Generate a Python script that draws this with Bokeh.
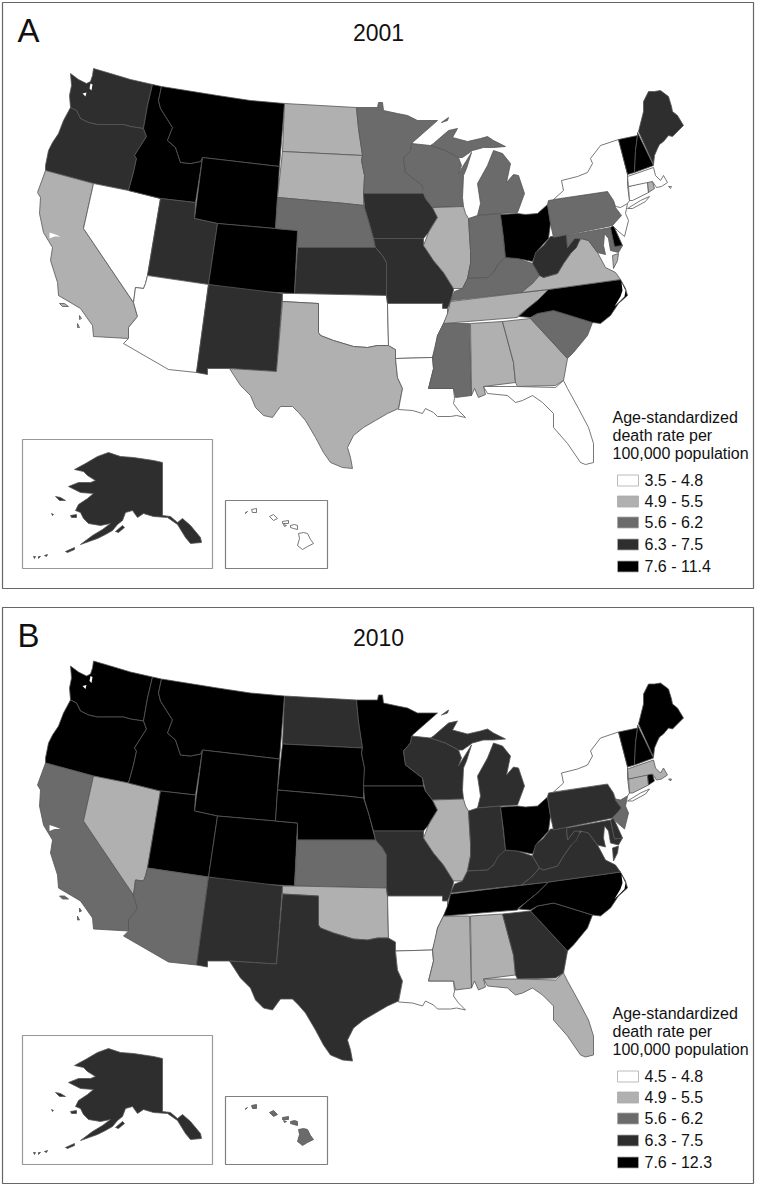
from bokeh.plotting import figure
from bokeh.models import Range1d, ColumnDataSource
from bokeh.core.properties import value
from bokeh.embed import file_html
from bokeh.resources import INLINE

# Rate classes (index into PALETTE) by state
STATE_NAMES = ["WA","OR","CA","NV","ID","MT","WY","UT","CO","AZ","NM","ND","SD","NE","KS","OK","TX",
               "MN","IA","MO","AR","LA","WI","IL","MS","MI","IN","KY","TN","AL","OH","GA","FL","SC",
               "NC","VA","WV","MD","DE","PA","NJ","NY","CT","RI","MA","VT","NH","ME","AK","HI"]
CLASS_2001 = [3,3,1,0,4,4,4,3,4,0,3,1,1,2,3,0,1,
              2,3,3,0,0,2,1,2,2,2,2,1,1,4,1,0,2,
              4,1,3,2,4,2,0,0,0,1,0,4,4,3,3,0]
CLASS_2010 = [4,4,2,1,4,4,4,4,4,2,3,3,4,4,2,1,3,
              4,4,3,0,0,3,1,1,3,3,3,4,1,4,3,1,4,
              4,3,3,3,3,3,2,0,1,4,1,4,4,4,3,2]
PALETTE = ["#ffffff","#b0b0b0","#6b6b6b","#2e2e2e","#000000"]
LEGEND_2001 = ["3.5 - 4.8","4.9 - 5.5","5.6 - 6.2","6.3 - 7.5","7.6 - 11.4"]
LEGEND_2010 = ["4.5 - 4.8","4.9 - 5.5","5.6 - 6.2","6.3 - 7.5","7.6 - 12.3"]
LEGEND_TITLE = ["Age-standardized","death rate per","100,000 population"]

# State outlines (map units)
WA = [[(70,73),(74,76),(78,79),(86,83),(90,81),(92,75),(93,68),(110,73),(130,79),(152,84),(147,105),(143,128),(130,126),(123,124),(110,124),(97,124),(88,122),(80,118),(76,110),(70,107),(69,95),(71,85)]]
OR = [[(70,107),(76,110),(80,118),(88,122),(97,124),(110,124),(123,124),(130,126),(143,128),(146,136),(139,147),(134,155),(136,158),(133,172),(128,190),(93,183),(45,170),(45,165),(48,150),(52,142),(58,133),(63,120)]]
CA = [[(45,170),(93,183),(83,228),(133,302),(137,316),(128,327),(128,338),(93,336),(92,325),(80,308),(58,295),(57,282),(50,260),(52,247),(43,232),(39,213),(40,197),(37,192)],
      [(59,303),(64,303),(68,306),(62,306)],[(79,315),(81,318),(79,319)],[(77,323),(79,327),(77,327)]]
NV = [[(93,183),(128,190),(160,198),(147,275),(145,283),(143,288),(135,287),(133,302),(83,228)]]
ID = [[(152,84),(161,86),(158,100),(160,108),(172,127),(167,140),(175,147),(180,162),(190,163),(200,161),(202,157),(195,202),(160,198),(128,190),(133,172),(136,158),(134,155),(139,147),(146,136),(143,128),(147,105)]]
MT = [[(161,86),(217,95),(250,100),(284,103),(279,166),(202,157),(200,161),(190,163),(180,162),(175,147),(167,140),(172,127),(160,108),(158,100)]]
WY = [[(202,157),(279,166),(275,228),(217,223),(194,218)]]
UT = [[(160,198),(195,202),(194,218),(217,223),(208,284),(147,275)]]
CO = [[(217,223),(275,228),(297,230),(294,293),(238,290),(208,284)]]
AZ = [[(147,275),(208,284),(196,372),(168,369),(123,343),(128,338),(128,327),(137,316),(133,302),(135,287),(143,288),(145,283)]]
NM = [[(208,284),(282,293),(276,371),(229,368),(207,368),(207,374),(196,372)]]
ND = [[(284,103),(356,107),(358,128),(362,155),(282,151)]]
SD = [[(282,151),(362,155),(361,160),(364,175),(363,205),(345,203),(277,197)]]
NE = [[(277,197),(345,203),(363,205),(368,220),(375,247),(297,247),(297,230),(275,228)]]
KS = [[(297,247),(375,247),(382,255),(386,262),(386,295),(294,293)]]
OK = [[(282,293),(294,293),(386,295),(387,303),(388,345),(377,345),(367,347),(353,346),(333,340),(320,335),(318,332),(318,303),(282,301)]]
TX = [[(282,301),(318,303),(318,332),(320,335),(333,340),(353,346),(367,347),(377,345),(388,345),(395,349),(395,358),(397,377),(402,388),(398,408),(387,413),(375,420),(363,427),(353,435),(347,447),(350,457),(352,468),(342,467),(330,462),(323,452),(315,437),(305,420),(298,412),(292,406),(280,406),(277,410),(272,417),(263,415),(255,407),(250,395),(240,385),(229,368),(276,371)]]
MN = [[(356,107),(377,107),(378,102),(382,102),(383,110),(397,113),(407,115),(417,120),(437,120),(412,142),(410,150),(403,158),(405,172),(422,185),(423,193),(363,193),(364,175),(361,160),(362,155),(358,128)]]
IA = [[(363,193),(423,193),(425,198),(432,207),(437,217),(430,228),(428,232),(423,238),(373,238),(368,220),(364,207)]]
MO = [[(373,238),(423,238),(423,245),(433,260),(443,272),(453,288),(453,290),(450,301),(447,308),(442,308),(442,303),(387,303),(386,295),(386,262),(382,255),(375,247)]]
AR = [[(387,303),(442,303),(442,308),(447,308),(447,315),(443,323),(437,335),(435,347),(432,357),(395,358),(395,349),(388,345)]]
LA = [[(395,358),(432,357),(433,368),(428,388),(453,388),(454,398),(453,403),(458,410),(465,417),(456,415),(450,416),(437,416),(433,412),(425,408),(422,413),(412,410),(398,409),(402,388),(397,377)]]
WI = [[(410,150),(411,143),(430,145),(445,150),(458,157),(461,165),(458,173),(466,160),(471,152),(466,168),(463,175),(462,197),(463,206),(432,207),(425,198),(422,185),(405,172),(403,158)]]
IL = [[(432,207),(463,206),(465,213),(468,218),(470,250),(470,263),(467,278),(462,288),(453,288),(443,272),(433,260),(423,245),(428,232),(437,217)]]
MS = [[(443,323),(469,323),(471,395),(455,397),(453,388),(428,388),(433,368),(432,357),(437,335)]]
MI = [[(477,215),(500,213),(517,212),(524,193),(518,175),(513,174),(506,182),(510,163),(502,153),(493,150),(487,165),(477,183),(480,203)],
      [(430,145),(433,143),(448,130),(457,128),(452,137),(467,141),(480,138),(487,136),(493,140),(505,146),(493,147),(483,147),(472,150),(462,157),(458,157),(445,150)],
      [(441,122),(448,117),(447,120)]]
IN = [[(468,218),(477,215),(500,213),(505,257),(493,272),(487,277),(467,278),(470,263),(470,250)]]
KY = [[(450,300),(454,291),(462,288),(467,278),(487,277),(493,272),(498,263),(505,257),(517,258),(532,263),(539,275),(532,283),(521,292)]]
TN = [[(450,301),(548,289),(537,300),(527,308),(518,315),(517,317),(443,323),(447,313)]]
AL = [[(470,323),(502,321),(513,362),(515,382),(483,386),(485,394),(478,397),(474,388),(471,395)]]
OH = [[(500,214),(517,213),(525,214),(537,213),(547,204),(550,223),(548,238),(537,250),(532,261),(517,258),(505,257),(503,237)]]
GA = [[(502,321),(530,318),(567,358),(563,380),(555,385),(517,386),(515,382),(513,362)]]
FL = [[(483,386),(517,386),(555,387),(563,380),(567,388),(578,408),(588,427),(593,443),(593,462),(585,464),(580,462),(567,443),(553,427),(553,413),(542,402),(532,395),(522,400),(515,402),(507,395),(487,393)]]
SC = [[(530,318),(537,313),(553,310),(563,313),(592,322),(587,335),(573,352),(567,358)]]
NC = [[(518,316),(527,308),(537,300),(548,289),(620,279),(625,288),(627,295),(618,303),(610,315),(600,323),(592,322),(563,313),(553,310),(537,313),(530,317)]]
VA = [[(521,292),(532,283),(539,275),(543,277),(557,273),(563,263),(570,253),(578,241),(582,238),(588,240),(597,252),(605,267),(615,272),(620,279),(548,289)],
      [(618,253),(612,255),(613,268),(617,260)]]
WV = [[(532,263),(535,252),(543,245),(550,236),(557,236),(566,234),(567,247),(574,238),(580,238),(576,247),(570,253),(563,263),(557,273),(543,277),(539,275)]]
MD = [[(566,235),(610,227),(614,246),(622,245),(618,252),(610,250),(608,238),(604,233),(603,245),(605,254),(597,252),(588,240),(580,238),(574,238),(567,247)]]
DE = [[(610,227),(613,225),(622,245),(614,246)]]
PA = [[(548,200),(607,191),(613,200),(615,207),(621,215),(612,225),(553,237),(550,223),(547,204)]]
NJ = [[(615,200),(627,203),(625,213),(628,220),(624,236),(617,230),(612,225),(621,215),(615,207)]]
NY = [[(553,199),(563,190),(561,180),(577,176),(587,172),(592,163),(590,158),(600,145),(618,139),(627,173),(627,185),(629,200),(627,203),(620,207),(615,206),(613,200),(607,191)],
      [(627,208),(640,200),(649,196),(645,201),(632,208)]]
CT = [[(628,186),(647,181),(648,192),(632,200),(629,200)]]
RI = [[(647,181),(652,181),(654,188),(648,192)]]
MA = [[(627,176),(653,167),(655,175),(660,180),(663,175),(667,182),(661,186),(656,187),(652,181),(628,186)],
      [(668,186),(671,186),(670,188)]]
VT = [[(618,139),(637,135),(635,150),(634,172),(627,174)]]
NH = [[(637,132),(653,165),(634,172),(635,150),(637,135)]]
ME = [[(638,131),(643,111),(643,101),(648,91),(654,91),(660,90),(668,96),(671,106),(672,111),(677,115),(683,125),(678,130),(672,136),(668,135),(663,141),(659,144),(657,148),(654,155),(653,164)]]
AK = [[(162,462),(162,515),(170,516),(177,522),(182,518),(190,525),(200,537),(201,542),(190,543),(185,537),(177,524),(167,517),(153,516),(143,513),(137,517),(132,510),(125,512),(122,520),(117,524),(112,530),(105,534),(97,538),(80,544),(92,535),(102,529),(110,523),(100,525),(88,523),(83,518),(80,512),(75,510),(78,504),(87,498),(93,493),(80,492),(68,486),(78,482),(90,482),(95,480),(87,475),(83,471),(74,469),(85,463),(97,456),(108,452),(120,456),(133,457),(153,460)],
      [(115,531),(122,525),(124,527),(118,532)],[(70,515),(76,514),(76,517),(71,517)],[(55,496),(60,497),(65,500),(59,500)],
      [(65,551),(74,547),(74,549),(67,552)],[(51,513),(53,514),(52,515)],[(33,556),(35,556),(34,558)],[(38,556),(40,556),(38,558)],[(44,555),(47,554),(46,556)]]
HI = [[(298,533),(303,532),(307,533),(310,539),(313,543),(307,546),(302,549),(297,545),(299,538)],[(290,525),(294,524),(297,525),(297,529),(293,528),(290,527)],
      [(282,521),(288,520),(288,523),(282,523)],[(283,524),(286,525),(284,526)],[(269,516),(273,514),(277,518),(273,520)],
      [(251,509),(256,508),(256,512),(252,512)],[(245,512),(247,511),(245,513)]]

SHAPES = [WA,OR,CA,NV,ID,MT,WY,UT,CO,AZ,NM,ND,SD,NE,KS,OK,TX,MN,IA,MO,AR,LA,WI,IL,MS,MI,IN,KY,TN,AL,OH,GA,FL,SC,NC,VA,WV,MD,DE,PA,NJ,NY,CT,RI,MA,VT,NH,ME,AK,HI]

# Small water bodies over the states (Puget Sound, San Francisco Bay, Pamlico Sound)
WATER = [[(82,93),(86,92),(85,96)],[(90,83),(92,84),(91,90),(89,88)],[(49,232),(55,234),(60,236),(54,236),(49,238)],
         [(621,282),(625,290),(624,296),(618,302),(614,306),(620,296),(622,290)]]

W, H = 757, 1187
p = figure(width=W, height=H, x_range=Range1d(0, W), y_range=Range1d(H, 0),
           output_backend="svg", toolbar_location=None, min_border=0,
           x_axis_location=None, y_axis_location=None, outline_line_color=None)
p.grid.visible = False
p.styles = {"position": "absolute", "left": "0px", "top": "0px"}

MAP_SHIFT = 592.5
BOX_SHIFT = 596
FONT = value("Liberation Sans")

def draw_panel(classes, legend, letter, year, frame_top, frame_bottom, map_dy, box_dy):
    p.quad(left=[2], right=[753], top=[frame_top], bottom=[frame_bottom], fill_color=None,
           line_color="#666666", line_width=1.2)
    p.quad(left=[22], right=[212], top=[439 + box_dy], bottom=[568 + box_dy], fill_color=None,
           line_color="#999999", line_width=1.2)
    p.quad(left=[225], right=[327], top=[500 + box_dy], bottom=[568 + box_dy], fill_color=None,
           line_color="#808080", line_width=1.2)
    xs, ys, fills = [], [], []
    for name, shape, c in zip(STATE_NAMES, SHAPES, classes):
        dy = box_dy if name in ("AK", "HI") else map_dy
        for part in shape:
            xs.append([q[0] for q in part])
            ys.append([q[1] + dy for q in part])
            fills.append(PALETTE[c])
    src = ColumnDataSource(dict(xs=xs, ys=ys, fill=fills))
    p.patches("xs", "ys", source=src, fill_color="fill", line_color="#555555", line_width=0.8)
    p.patches([[q[0] for q in w] for w in WATER], [[q[1] + map_dy for q in w] for w in WATER],
              fill_color="#ffffff", line_color=None)
    p.text(x=[17], y=[frame_top + 28], text=[letter], text_font=FONT, text_font_size="33px",
           text_baseline="middle", text_align="left", text_color="#111111")
    p.text(x=[378], y=[frame_top + 30], text=[year], text_font=FONT, text_font_size="23px",
           text_baseline="middle", text_align="center", text_color="#111111")
    p.text(x=[612] * 3, y=[417 + box_dy, 435 + box_dy, 453 + box_dy], text=LEGEND_TITLE, text_font=FONT,
           text_font_size="16px", text_baseline="middle", text_color="#111111")
    ky = [480, 501, 522, 544, 566]
    p.rect(x=[627.5] * 5, y=[k + box_dy for k in ky], width=21, height=11, fill_color=PALETTE,
           line_color="#aaaaaa", line_width=0.8)
    p.text(x=[644] * 5, y=[k + box_dy for k in ky], text=legend, text_font=FONT, text_font_size="16px",
           text_baseline="middle", text_color="#111111")

draw_panel(CLASS_2001, LEGEND_2001, "A", "2001", 2, 588, 0, 0)
draw_panel(CLASS_2010, LEGEND_2010, "B", "2010", 607, 1183, MAP_SHIFT, BOX_SHIFT)

open("out.html", "w").write(file_html(p, INLINE))
